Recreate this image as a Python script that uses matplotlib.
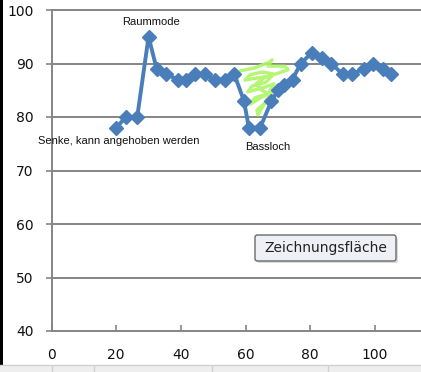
import matplotlib
matplotlib.use("Agg")
import matplotlib.pyplot as plt
from matplotlib.patches import Rectangle, FancyBboxPatch

# ---- data ----
freq = [20, 23, 26.5, 30, 32.5, 35.5, 39, 41.5, 44.5, 47.5, 50.5, 53.5, 56.5,
        59.5, 61, 64.5, 68, 70, 72, 74.5, 77, 80.5, 83.5, 86.5, 90, 93,
        96.5, 99.5, 102.5, 105]
level = [78, 80, 80, 95, 89, 88, 87, 87, 88, 88, 87, 87, 88,
         83, 78, 78, 83, 85, 86, 87, 90, 92, 91, 90, 88, 88,
         89, 90, 89, 88]

x_ticks = [0, 20, 40, 60, 80, 100]
y_ticks = [40, 50, 60, 70, 80, 90, 100]

annot_text = ["Raummode", "Senke, kann angehoben werden", "Bassloch"]
annot_x = [30.8, 20.7, 66.9]
annot_y = [97.85, 75.5, 74.4]

scribble_x = [58.3, 62.9, 67.5, 68.2, 66.9, 72.2, 73.1, 69.1, 65.1, 61.4,
              59.8, 63.8, 68.2, 66.3, 62.0, 60.7, 65.1, 68.8, 66.9, 62.9,
              61.4, 65.4, 68.2, 66.3, 63.5, 63.8, 65.7, 67.5, 65.1, 63.2, 65.7]
scribble_y = [88.6, 89.2, 90.3, 90.7, 89.5, 89.5, 88.8, 88.0, 88.4, 87.9,
              86.9, 87.3, 87.7, 86.5, 85.8, 84.7, 85.4, 86.2, 84.3, 83.6,
              82.4, 83.9, 84.7, 82.8, 81.3, 80.4, 82.4, 84.1, 85.0, 86.2, 87.3]

tooltip = "Zeichnungsfläche"

W, H = 421, 372
fig = plt.figure(figsize=(W / 100, H / 100), dpi=100)
fig.patch.set_facecolor("white")

ax = fig.add_axes([51.5 / W, (H - 331) / H, (W - 51.5) / W, (331 - 10) / H])
ax.set_xlim(0, (W - 51.5) / 3.235)
ax.set_ylim(40, 100)

grid_c = "#858585"
for yv in y_ticks[1:]:
    ax.axhline(yv, color=grid_c, lw=1.4, zorder=1, clip_on=False)

for s in ["top", "right"]:
    ax.spines[s].set_visible(False)
ax.spines["left"].set_color(grid_c)
ax.spines["bottom"].set_color(grid_c)
ax.spines["left"].set_linewidth(1.4)
ax.spines["bottom"].set_linewidth(1.4)

ax.set_xticks(x_ticks)
ax.set_yticks(y_ticks)
ax.tick_params(axis="x", direction="in", length=4, width=1.2, color=grid_c,
               pad=12, labelsize=10, labelcolor="#111111")
ax.tick_params(axis="y", direction="out", length=4, width=1.2, color=grid_c,
               pad=9, labelsize=10, labelcolor="#111111")

ax.plot(scribble_x, scribble_y, color="#adf565", lw=2.4, alpha=0.9,
        solid_joinstyle="round", zorder=2)

ax.plot(freq, level, color="#4a7ebb", lw=2.8, marker="D", markersize=7.5,
        markerfacecolor="#4a7ebb", markeredgecolor="#4a7ebb", zorder=3,
        clip_on=False)

for t, xx, yy in zip(annot_text, annot_x, annot_y):
    ax.text(xx, yy, t, ha="center", va="center", fontsize=8,
            family="Liberation Sans", color="#111111", zorder=4)

# tooltip box (figure pixel coordinates)
shadow = FancyBboxPatch((257 / W, (H - 263) / H), 141 / W, 26 / H,
                        boxstyle="round,pad=0,rounding_size=0.006",
                        transform=fig.transFigure, facecolor="#c4c4c4",
                        edgecolor="none", alpha=0.6, zorder=5)
fig.patches.append(shadow)
box = FancyBboxPatch((255 / W, (H - 261) / H), 141 / W, 26 / H,
                     boxstyle="round,pad=0,rounding_size=0.006",
                     transform=fig.transFigure, facecolor="#eef0f6",
                     edgecolor="#6a6a6a", lw=1.0, zorder=6)
fig.patches.append(box)
fig.text(325.5 / W, (H - 248) / H, tooltip, ha="center", va="center",
         fontsize=10, family="DejaVu Sans", color="#222222", zorder=7)

# left dark strip and bottom spreadsheet strip
fig.patches.append(Rectangle((0, (H - 365) / H), 3 / W, 365 / H,
                             transform=fig.transFigure, facecolor="black",
                             edgecolor="none", zorder=8))
fig.patches.append(Rectangle((0, 0), 1, (H - 365) / H,
                             transform=fig.transFigure, facecolor="#eeeeee",
                             edgecolor="none", zorder=8))
fig.add_artist(plt.Line2D([0, 1], [(H - 365) / H] * 2, transform=fig.transFigure,
                          color="#d0d0d0", lw=1, zorder=9))
for px in [52, 94, 212, 328]:
    fig.add_artist(plt.Line2D([px / W] * 2, [0, (H - 366) / H],
                              transform=fig.transFigure, color="#d0d0d0",
                              lw=1, zorder=9))

fig.savefig("out.png", dpi=100)
